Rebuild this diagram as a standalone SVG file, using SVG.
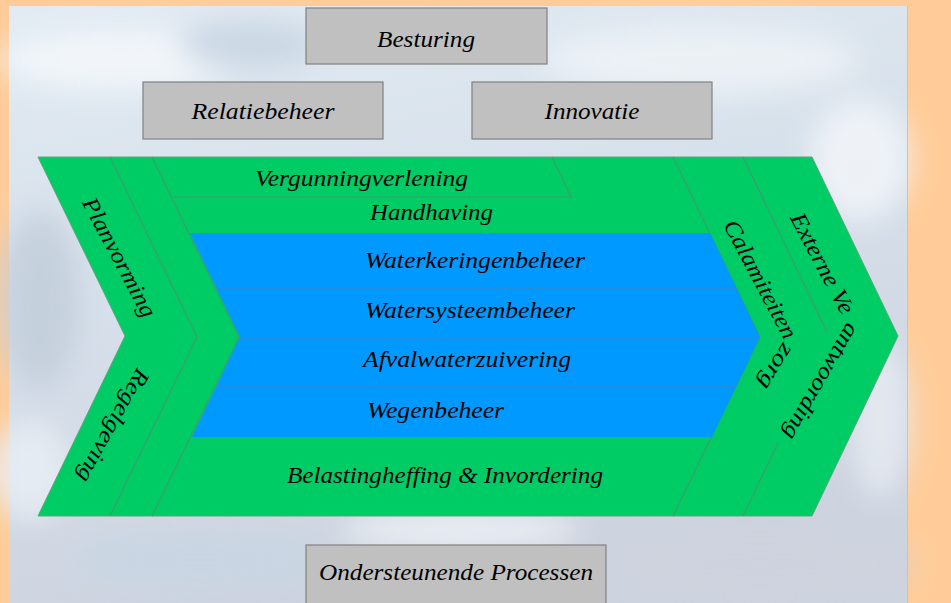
<svg xmlns="http://www.w3.org/2000/svg" width="951" height="603" viewBox="0 0 951 603">
<style>
.t{font-family:"Liberation Serif","Times New Roman",serif;font-style:italic;font-size:23px;fill:#000;}
.box{fill:#C0C0C0;stroke:#808080;stroke-width:1.2;}
.div{fill:none;stroke:#3d9e6a;stroke-width:1.2;}
.sep{stroke:#3f86c4;stroke-width:1.2;}
</style>
<defs>
<linearGradient id="sky" x1="0" y1="0" x2="0.3" y2="1">
<stop offset="0" stop-color="#e2ebf3"/>
<stop offset="0.5" stop-color="#d6e0ea"/>
<stop offset="1" stop-color="#cdd3df"/>
</linearGradient>
<filter id="blur" x="-50%" y="-50%" width="200%" height="200%"><feGaussianBlur stdDeviation="14"/></filter>
</defs>
<g id="background">
<rect x="0" y="0" width="951" height="603" fill="#FFCC99"/>
<rect x="9" y="6" width="898.5" height="597" fill="url(#sky)"/>
<g filter="url(#blur)" opacity="0.85">
<ellipse cx="120" cy="60" rx="120" ry="30" fill="#f4f8fb"/>
<ellipse cx="700" cy="60" rx="160" ry="35" fill="#eef3f7"/>
<ellipse cx="860" cy="160" rx="50" ry="60" fill="#f2f5f9"/>
<ellipse cx="40" cy="300" rx="40" ry="90" fill="#c3cedb"/>
<ellipse cx="30" cy="470" rx="40" ry="50" fill="#e8eef4"/>
<ellipse cx="880" cy="420" rx="30" ry="80" fill="#e6ebf2"/>
<ellipse cx="200" cy="560" rx="130" ry="30" fill="#c9d6e4"/>
<ellipse cx="760" cy="565" rx="150" ry="35" fill="#cfd3de"/>
<ellipse cx="460" cy="530" rx="120" ry="20" fill="#eef2f6"/>
<ellipse cx="250" cy="45" rx="70" ry="25" fill="#c8d5e3"/>
</g>
<line x1="907.5" y1="6" x2="907.5" y2="603" stroke="#b9c6e0" stroke-width="1"/>
</g>
<g id="chevron">
<polygon points="38,157 812,157 898,336 812,516 38,516 125,336" fill="#00CC66" stroke="#5aa67a" stroke-width="1"/>
</g>
<g id="dividers">
<polyline class="div" points="110,157 197,337 110,516"/>
<polyline class="div" points="152,157 239,337 152,516"/>
<polyline class="div" points="673,157 760,337 673,516"/>
<polyline class="div" points="743,157 827,332"/>
<polyline class="div" points="778,443 743,516"/>
<polyline class="div" points="173,197 571,197 552,157"/>
</g>
<g id="blue-block">
<polygon points="190,233 710,233 760,337 712,437 192,437 240,337" fill="#0099FF"/>
<line class="sep" x1="216" y1="288" x2="737" y2="288"/>
<line class="sep" x1="240" y1="338" x2="760" y2="338"/>
<line class="sep" x1="216" y1="386" x2="737" y2="386"/>
</g>
<g id="besturing"><rect class="box" x="306" y="8" width="241" height="56"/><text class="t" x="426" y="47" text-anchor="middle" textLength="98" lengthAdjust="spacingAndGlyphs">Besturing</text></g>
<g id="relatiebeheer"><rect class="box" x="143" y="82" width="240" height="57"/><text class="t" x="263" y="119" text-anchor="middle" textLength="143" lengthAdjust="spacingAndGlyphs">Relatiebeheer</text></g>
<g id="innovatie"><rect class="box" x="472" y="82" width="240" height="57"/><text class="t" x="592" y="119" text-anchor="middle" textLength="95" lengthAdjust="spacingAndGlyphs">Innovatie</text></g>
<g id="ondersteunende"><rect class="box" x="306" y="545" width="300" height="62"/><text class="t" x="456" y="580" text-anchor="middle" textLength="274" lengthAdjust="spacingAndGlyphs">Ondersteunende Processen</text></g>
<g id="vergunningverlening"><text class="t" x="255" y="186" textLength="213" lengthAdjust="spacingAndGlyphs">Vergunningverlening</text></g>
<g id="handhaving"><text class="t" x="370" y="220" textLength="123" lengthAdjust="spacingAndGlyphs">Handhaving</text></g>
<g id="waterkeringenbeheer"><text class="t" x="365" y="268" textLength="220" lengthAdjust="spacingAndGlyphs">Waterkeringenbeheer</text></g>
<g id="watersysteembeheer"><text class="t" x="365" y="318" textLength="210" lengthAdjust="spacingAndGlyphs">Watersysteembeheer</text></g>
<g id="afvalwaterzuivering"><text class="t" x="363" y="367" textLength="208" lengthAdjust="spacingAndGlyphs">Afvalwaterzuivering</text></g>
<g id="wegenbeheer"><text class="t" x="367" y="418" textLength="137" lengthAdjust="spacingAndGlyphs">Wegenbeheer</text></g>
<g id="belastingheffing"><text class="t" x="287" y="483" textLength="316" lengthAdjust="spacingAndGlyphs">Belastingheffing &amp; Invordering</text></g>
<g id="planvorming"><text class="t" transform="translate(118,258) rotate(62)" x="0" y="6" text-anchor="middle" textLength="132" lengthAdjust="spacingAndGlyphs">Planvorming</text></g>
<g id="regelgeving"><text class="t" transform="translate(112,425) rotate(119)" x="0" y="6" text-anchor="middle" textLength="126" lengthAdjust="spacingAndGlyphs">Regelgeving</text></g>
<g id="calamiteitenzorg">
<text class="t" transform="translate(759,280) rotate(62)" x="0" y="6" text-anchor="middle" textLength="131" lengthAdjust="spacingAndGlyphs">Calamiteiten</text>
<text class="t" transform="translate(775,366) rotate(122)" x="0" y="6" text-anchor="middle" textLength="49" lengthAdjust="spacingAndGlyphs">zorg</text>
</g>
<g id="externeverantwoording">
<text class="t" transform="translate(821,264) rotate(62)" x="0" y="6" text-anchor="middle" textLength="111" lengthAdjust="spacingAndGlyphs">Externe Ve</text>
<text class="t" transform="translate(820,381) rotate(120)" x="0" y="6" text-anchor="middle" textLength="130" lengthAdjust="spacingAndGlyphs">antwoording</text>
</g>
</svg>
